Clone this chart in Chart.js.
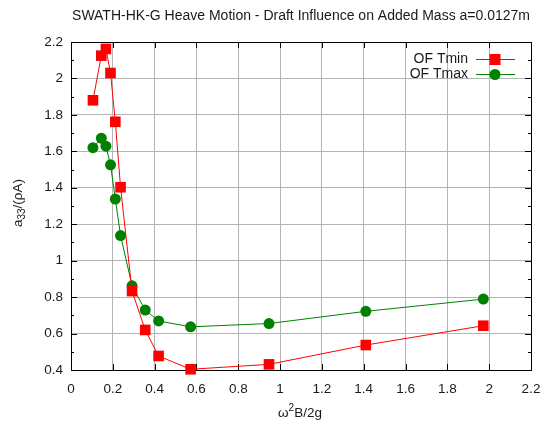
<!DOCTYPE html>
<html>
<head>
<meta charset="utf-8">
<script src="https://cdn.jsdelivr.net/npm/chart.js@4/dist/chart.umd.min.js"></script>
<style>
  html, body { margin: 0; padding: 0; background: #fff; }
  #wrap { width: 541px; height: 423px; }
</style>
</head>
<body>
<div id="wrap"><canvas id="addedMass" width="541" height="423"></canvas></div>
<script>
// non-dimensional frequency w^2 B / 2g
const freqParam = [0.105, 0.145, 0.167, 0.189, 0.212, 0.237, 0.292, 0.355, 0.419, 0.572, 0.947, 1.41, 1.972];
// heave added mass a33/(rho A) for the two drafts
const tminMass = [1.88, 2.125, 2.162, 2.03, 1.762, 1.403, 0.833, 0.62, 0.477, 0.404, 0.431, 0.537, 0.643];
const tmaxMass = [1.62, 1.672, 1.628, 1.526, 1.338, 1.138, 0.862, 0.729, 0.669, 0.637, 0.655, 0.722, 0.789];
const seriesNames = ['OF Tmin', 'OF Tmax'];
const xRange = [0, 2.2];
const yRange = [0.4, 2.2];
const tickStep = 0.2;

const FONT = '"Liberation Sans", Arial, sans-serif';
const TEXT = '#1a1a1a';

function pts(ys) { return freqParam.map((x, i) => ({ x, y: ys[i] })); }
function fmt(v) { return String(Math.round(v * 10) / 10); }

// draws a string made of normal / sub / sup pieces, centred on (cx, cy)
function richText(ctx, parts, cx, cy, size) {
    const small = Math.round(size * 0.72);
    let w = 0;
    parts.forEach(p => {
        ctx.font = `${p.s ? small : size}px ${FONT}`;
        p.w = ctx.measureText(p.t).width;
        w += p.w;
    });
    let x = cx - w / 2;
    ctx.textAlign = 'left';
    ctx.textBaseline = 'middle';
    parts.forEach(p => {
        ctx.font = `${p.s ? small : size}px ${FONT}`;
        const dy = p.s === 'sub' ? size * 0.3 : p.s === 'sup' ? -size * 0.38 : 0;
        ctx.fillText(p.t, x, cy + dy);
        x += p.w;
    });
}

const framePlugin = {
    id: 'frame',
    beforeDatasetsDraw(chart) {
        const { ctx, chartArea: a, scales: { x, y } } = chart;
        ctx.save();
        ctx.strokeStyle = '#000';
        ctx.lineWidth = 1;
        ctx.beginPath();
        // inward ticks on all four sides
        x.ticks.forEach(t => {
            const px = Math.round(x.getPixelForValue(t.value)) + 0.5;
            ctx.moveTo(px, a.bottom); ctx.lineTo(px, a.bottom - 6);
            ctx.moveTo(px, a.top);    ctx.lineTo(px, a.top + 6);
        });
        for (let v = yRange[0]; v <= yRange[1] + 1e-9; v += tickStep / 2) {
            const major = Math.abs(Math.round(v / tickStep) * tickStep - v) < 1e-6;
            const len = major ? 6 : 3;
            const py = Math.round(y.getPixelForValue(v)) + 0.5;
            ctx.moveTo(a.left, py);  ctx.lineTo(a.left + len, py);
            ctx.moveTo(a.right, py); ctx.lineTo(a.right - len, py);
        }
        ctx.stroke();
        ctx.strokeRect(Math.round(a.left) + 0.5, Math.round(a.top) + 0.5,
                       Math.round(a.right - a.left), Math.round(a.bottom - a.top));
        ctx.restore();
    },
    afterDraw(chart) {
        const { ctx } = chart;
        ctx.save();
        ctx.fillStyle = TEXT;

        // title
        ctx.font = `14px ${FONT}`;
        ctx.textAlign = 'center';
        ctx.textBaseline = 'middle';
        ctx.fillText('SWATH-HK-G Heave Motion - Draft Influence on Added Mass a=0.0127m', 301, 16);

        // axis titles
        richText(ctx, [{ t: 'ω' }, { t: '2', s: 'sup' }, { t: 'B/2g' }], 300, 413, 13.5);
        ctx.save();
        ctx.translate(18, 203);
        ctx.rotate(-Math.PI / 2);
        richText(ctx, [{ t: 'a' }, { t: '33', s: 'sub' }, { t: '/(ρA)' }], 0, 0, 13.5);
        ctx.restore();

        // legend: label on the left, sample line + marker on the right
        chart.data.datasets.forEach((ds, i) => {
            const yy = 59 + i * 15;
            ctx.fillStyle = TEXT;
            ctx.font = `14px ${FONT}`;
            ctx.textAlign = 'right';
            ctx.textBaseline = 'middle';
            ctx.fillText(ds.label, 468, yy);
            ctx.strokeStyle = ds.borderColor;
            ctx.lineWidth = 1;
            ctx.beginPath();
            ctx.moveTo(476, yy + 0.5); ctx.lineTo(515, yy + 0.5);
            ctx.stroke();
            ctx.fillStyle = ds.pointBackgroundColor;
            if (ds.pointStyle === 'rect') {
                ctx.fillRect(495 - 5.5, yy - 5, 11, 11);
            } else {
                ctx.beginPath();
                ctx.arc(495, yy + 0.5, 5.5, 0, Math.PI * 2);
                ctx.fill();
            }
        });
        ctx.restore();
    }
};

new Chart(document.getElementById('addedMass'), {
    type: 'line',
    data: {
        datasets: [
            {
                label: seriesNames[0],
                data: pts(tminMass),
                borderColor: '#ff0000',
                backgroundColor: '#ff0000',
                pointBackgroundColor: '#ff0000',
                pointBorderWidth: 0,
                pointStyle: 'rect',
                pointRadius: 7.5,
                borderWidth: 1,
                tension: 0,
                clip: false
            },
            {
                label: seriesNames[1],
                data: pts(tmaxMass),
                borderColor: '#008000',
                backgroundColor: '#008000',
                pointBackgroundColor: '#008000',
                pointBorderWidth: 0,
                pointStyle: 'circle',
                pointRadius: 5.5,
                borderWidth: 1,
                tension: 0,
                clip: false
            }
        ]
    },
    options: {
        responsive: false,
        devicePixelRatio: 1,
        animation: false,
        layout: { padding: { left: 0, right: 0, top: 42, bottom: 0 } },
        plugins: { legend: { display: false }, tooltip: { enabled: false }, title: { display: false } },
        scales: {
            x: {
                type: 'linear',
                min: xRange[0], max: xRange[1],
                afterFit(s) { s.height = 53; s.paddingRight = 10; },
                ticks: { stepSize: tickStep, padding: 11, color: TEXT, font: { family: FONT, size: 13.5 }, callback: fmt, maxRotation: 0 },
                grid: { color: '#b4b4b4', lineWidth: 1, drawTicks: false },
                border: { display: false }
            },
            y: {
                type: 'linear',
                min: yRange[0], max: yRange[1],
                afterFit(s) { s.width = 71; },
                ticks: { stepSize: tickStep, padding: 8, color: TEXT, font: { family: FONT, size: 13.5 }, callback: fmt },
                grid: { color: '#b4b4b4', lineWidth: 1, drawTicks: false },
                border: { display: false }
            }
        }
    },
    plugins: [framePlugin]
});
</script>
</body>
</html>
